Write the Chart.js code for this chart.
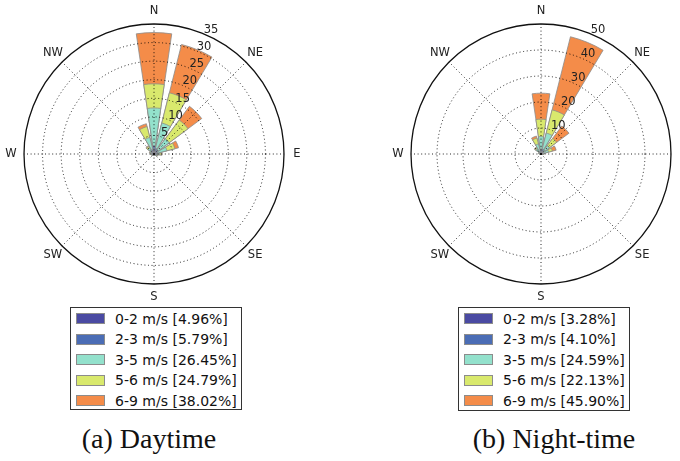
<!DOCTYPE html>
<html><head><meta charset="utf-8">
<script src="https://cdn.jsdelivr.net/npm/chart.js@4"></script>
<style>
html,body{margin:0;padding:0;background:#fff;width:680px;height:461px;overflow:hidden;position:relative;font-family:'DejaVu Sans',sans-serif;}
canvas{position:absolute;top:0;}
.legend{position:absolute;border:1px solid #333;box-sizing:border-box;background:#fff;}
.sw{position:absolute;left:5px;width:29px;height:11px;box-sizing:border-box;border:1px solid #8c8c8c;}
.lt{position:absolute;left:44px;font-size:14px;color:#111;white-space:nowrap;line-height:16px;}
.title{position:absolute;font-family:'Liberation Serif',serif;font-size:28px;color:#111;white-space:nowrap;transform:translateX(-50%);line-height:32px;}
</style></head>
<body>
<canvas id="day" width="308" height="308" style="left:0px"></canvas>
<canvas id="night" width="293" height="308" style="left:387px"></canvas>
<div id="legDay" class="legend" style="left:70px;top:307px;width:172px;height:103px"></div>
<div id="legNight" class="legend" style="left:458px;top:307px;width:172px;height:104px"></div>
<div class="title" id="tDay" style="left:149px;top:423px"></div>
<div class="title" id="tNight" style="left:554px;top:423px"></div>
<script>
// ---- data ----
const DIRECTIONS = ['N','NNE','NE','ENE','E','ESE','SE','SSE','S','SSW','SW','WSW','W','WNW','NW','NNW'];
const COMPASS_DAY = ['N','NE','E','SE','S','SW','W','NW'];
const COMPASS_NIGHT = ['N','NE','','SE','S','SW','W','NW'];
const SPEED_BINS = ['0-2 m/s','2-3 m/s','3-5 m/s','5-6 m/s','6-9 m/s'];
const DAY_SHARE = ['4.96%','5.79%','26.45%','24.79%','38.02%'];
const NIGHT_SHARE = ['3.28%','4.10%','24.59%','22.13%','45.90%'];
const TITLES = ['(a) Daytime','(b) Night-time'];

// frequency (%) per direction, per speed bin (N, NNE, ... NNW)
const DAY_0_2 = [0.8,0.6,0.5,0.4,0.3,0.2,0.2,0.2,0.2,0.2,0.2,0.2,0.3,0.3,0.4,0.5];
const DAY_2_3 = [1.4,1.0,0.8,0.6,0.4,0.2,0.1,0.1,0.1,0.1,0.1,0.2,0.2,0.3,0.5,0.7];
const DAY_3_5 = [10.2,7.0,3.8,2.6,0.8,0.4,0.2,0.1,0.1,0.1,0.2,0.2,0.3,0.4,1.1,3.4];
const DAY_5_6 = [6.5,8.4,6.3,2.2,0.5,0.2,0.1,0.0,0.0,0.0,0.0,0.1,0.1,0.2,0.5,3.0];
const DAY_6_9 = [13.8,13.4,4.6,1.0,0.2,0.1,0.0,0.0,0.0,0.0,0.0,0.0,0.0,0.1,0.2,0.8];

const NIGHT_0_2 = [0.6,0.8,0.4,0.3,0.2,0.1,0.1,0.1,0.1,0.1,0.1,0.1,0.2,0.2,0.3,0.4];
const NIGHT_2_3 = [1.0,1.2,0.6,0.5,0.2,0.1,0.1,0.1,0.1,0.1,0.1,0.1,0.1,0.2,0.4,0.6];
const NIGHT_3_5 = [5.1,6.3,3.0,2.2,0.4,0.2,0.1,0.0,0.0,0.0,0.1,0.1,0.2,0.4,1.8,3.0];
const NIGHT_5_6 = [6.7,9.2,3.5,1.5,0.2,0.1,0.0,0.0,0.0,0.0,0.0,0.0,0.0,0.2,0.5,2.3];
const NIGHT_6_9 = [10.0,29.0,5.9,1.5,0.1,0.0,0.0,0.0,0.0,0.0,0.0,0.0,0.0,0.0,0.2,0.8];

const DAY_TICKS = [5,10,15,20,25,30,35];
const NIGHT_TICKS = [10,20,30,40,50];

// ---- style ----
const COLORS = ['#4a4aa2','#4b6db5','#93e1cc','#d9e96d','#f48c49'];
const SECTOR = 360 / DIRECTIONS.length;
const BAR = 16.8;
const GAP = SECTOR - BAR;

function buildDatasets(bins) {
  const datasets = [];
  let run = DIRECTIONS.map(() => 0);
  bins.forEach((b, k) => {
    run = run.map((v, i) => v + b[i]);
    const data = [0];
    run.forEach((v, i) => { data.push(+v.toFixed(3)); if (i < run.length - 1) data.push(0); });
    datasets.push({
      label: SPEED_BINS[k],
      data,
      backgroundColor: COLORS[k],
      borderColor: '#8c8c8c',
      borderWidth: c => (c.dataIndex % 2 === 1 ? 0.8 : 0),
      angle: c => (c.dataIndex === 0 ? -BAR / 2 : (c.dataIndex % 2 === 1 ? BAR : GAP))
    });
  });
  return datasets;
}

const labelPlugin = {
  id: 'roseLabels',
  afterDraw(chart, args, opts) {
    const s = chart.scales.r;
    const ctx = chart.ctx;
    ctx.save();
    ctx.fillStyle = '#222';
    ctx.font = '11.5px "DejaVu Sans", sans-serif';
    ctx.textAlign = 'center';
    ctx.textBaseline = 'middle';
    opts.compass.forEach((t, i) => {
      if (!t) return;
      const p = s.getPointPosition(i, s.drawingArea + 13);
      ctx.fillText(t, p.x, p.y);
    });
    ctx.textAlign = 'left';
    ctx.textBaseline = 'alphabetic';
    const a = 22.5 * Math.PI / 180;
    opts.ticks.forEach(v => {
      const r = s.getDistanceFromCenterForValue(v);
      ctx.fillText(String(v), s.xCenter + r * Math.sin(a), s.yCenter - r * Math.cos(a) - 1);
    });
    ctx.restore();
  }
};

function makeChart(id, bins, max, step, compass, ticks, padRight) {
  return new Chart(document.getElementById(id), {
    type: 'polarArea',
    data: { labels: compass, datasets: buildDatasets(bins) },
    options: {
      responsive: false,
      maintainAspectRatio: false,
      animation: false,
      layout: { padding: { left: 24, top: 24, right: padRight, bottom: 24 } },
      plugins: { legend: { display: false }, tooltip: { enabled: false }, roseLabels: { compass, ticks } },
      scales: {
        r: {
          min: 0, max: max, startAngle: 0,
          ticks: { display: false, stepSize: step },
          grid: {
            circular: true, z: 1,
            color: c => (c.tick && c.tick.value === max ? '#111' : 'rgba(0,0,0,0.85)'),
            lineWidth: c => (c.tick && c.tick.value === max ? 1.3 : 1)
          },
          border: { dash: c => (c.tick && c.tick.value === max ? [] : [1, 2.6]) },
          angleLines: { display: true, color: 'rgba(0,0,0,0.85)', lineWidth: 1, borderDash: [1, 2.6] },
          pointLabels: { display: false }
        }
      }
    },
    plugins: [labelPlugin]
  });
}

makeChart('day', [DAY_0_2, DAY_2_3, DAY_3_5, DAY_5_6, DAY_6_9], 35, 5, COMPASS_DAY, DAY_TICKS, 24);
makeChart('night', [NIGHT_0_2, NIGHT_2_3, NIGHT_3_5, NIGHT_5_6, NIGHT_6_9], 50, 10, COMPASS_NIGHT, NIGHT_TICKS, 9);

function buildLegend(id, shares) {
  const el = document.getElementById(id);
  const tops = [11.5, 32, 52.5, 73, 93.5];
  SPEED_BINS.forEach((b, k) => {
    const sw = document.createElement('div');
    sw.className = 'sw';
    sw.style.background = COLORS[k];
    sw.style.top = (tops[k] - 5.5 - 1) + 'px';
    el.appendChild(sw);
    const t = document.createElement('div');
    t.className = 'lt';
    t.textContent = b + ' [' + shares[k] + ']';
    t.style.top = (tops[k] - 8 - 1) + 'px';
    el.appendChild(t);
  });
}
buildLegend('legDay', DAY_SHARE);
buildLegend('legNight', NIGHT_SHARE);
document.getElementById('tDay').textContent = TITLES[0];
document.getElementById('tNight').textContent = TITLES[1];
</script>
</body></html>
